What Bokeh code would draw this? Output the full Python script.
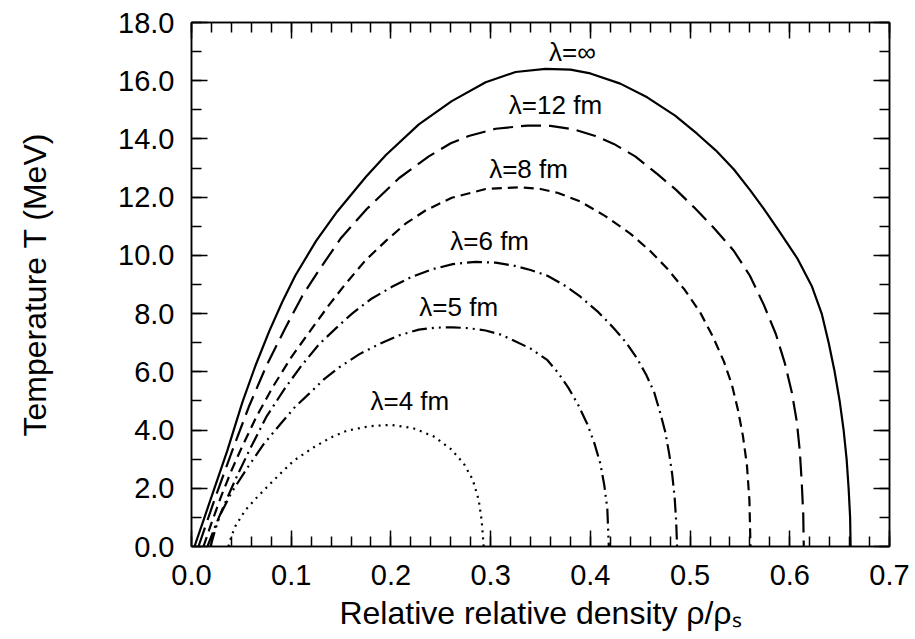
from bokeh.plotting import figure
from bokeh.models import Range1d, LinearAxis, FixedTicker, PrintfTickFormatter, ColumnDataSource
from bokeh.core.properties import value
from bokeh.embed import file_html
from bokeh.resources import INLINE

# Boundary of the liquid-gas coexistence region, T (MeV) against rho/rho_s,
# for several Coulomb screening lengths lambda.
rho_inf = [0.003, 0.012, 0.022, 0.036, 0.051, 0.064, 0.078, 0.091, 0.104, 0.125,
           0.146, 0.175, 0.195, 0.228, 0.261, 0.295, 0.325, 0.355, 0.380, 0.400,
           0.430, 0.457, 0.485, 0.507, 0.526, 0.544, 0.560, 0.574, 0.590, 0.6075,
           0.622, 0.632, 0.639, 0.645, 0.650, 0.654, 0.657, 0.659, 0.6605, 0.661]
T_inf = [0.0, 0.9, 1.9, 3.3, 4.95, 6.2, 7.4, 8.4, 9.3, 10.5,
         11.5, 12.7, 13.45, 14.5, 15.3, 15.95, 16.3, 16.41, 16.38, 16.25,
         15.9, 15.43, 14.8, 14.18, 13.6, 12.95, 12.25, 11.6, 10.8, 9.9,
         8.95, 8.0, 7.0, 6.0, 5.0, 4.0, 3.0, 2.0, 1.0, 0.0]

rho_12 = [0.007, 0.024, 0.041, 0.0575, 0.075, 0.094, 0.111, 0.128, 0.150, 0.176,
          0.208, 0.238, 0.260, 0.278, 0.305, 0.337, 0.360, 0.383, 0.405, 0.4235,
          0.445, 0.467, 0.486, 0.504, 0.525, 0.544, 0.560, 0.574, 0.586, 0.595,
          0.602, 0.607, 0.610, 0.612, 0.6135, 0.614]
T_12 = [0.0, 1.7, 3.3, 4.8, 6.2, 7.5, 8.6, 9.5, 10.6, 11.6,
        12.65, 13.4, 13.85, 14.1, 14.35, 14.46, 14.45, 14.33, 14.1, 13.83,
        13.4, 12.8, 12.25, 11.65, 10.9, 10.15, 9.3, 8.3, 7.3, 6.3,
        5.3, 4.3, 3.3, 2.2, 1.1, 0.0]

rho_8 = [0.012, 0.020, 0.030, 0.040, 0.049, 0.065, 0.081, 0.100, 0.121, 0.138,
         0.154, 0.175, 0.195, 0.215, 0.235, 0.261, 0.295, 0.330, 0.350, 0.367,
         0.390, 0.415, 0.440, 0.460, 0.477, 0.495, 0.510, 0.523, 0.534, 0.542,
         0.548, 0.553, 0.557, 0.5595, 0.5606]
T_8 = [0.0, 0.8, 1.75, 2.6, 3.3, 4.45, 5.45, 6.5, 7.5, 8.3,
       9.0, 9.85, 10.5, 11.1, 11.55, 11.98, 12.28, 12.34, 12.28, 12.15,
       11.85, 11.35, 10.75, 10.15, 9.55, 8.8, 8.05, 7.2, 6.35, 5.55,
       4.7, 3.8, 2.8, 1.6, 0.0]

rho_6 = [0.016, 0.025, 0.035, 0.046, 0.058, 0.075, 0.094, 0.110, 0.128, 0.145,
         0.161, 0.180, 0.201, 0.220, 0.241, 0.262, 0.285, 0.305, 0.323, 0.340,
         0.357, 0.375, 0.390, 0.408, 0.4235, 0.436, 0.447, 0.456, 0.464, 0.470,
         0.475, 0.479, 0.482, 0.4845, 0.486, 0.487]
T_6 = [0.0, 0.8, 1.6, 2.45, 3.3, 4.45, 5.45, 6.2, 6.95, 7.5,
       8.0, 8.5, 8.92, 9.25, 9.52, 9.7, 9.78, 9.75, 9.65, 9.5,
       9.3, 8.95, 8.58, 8.05, 7.5, 7.0, 6.45, 5.9, 5.3, 4.6,
       3.95, 3.2, 2.5, 1.7, 0.9, 0.0]

rho_5 = [0.019, 0.024, 0.029, 0.040, 0.056, 0.072, 0.089, 0.104, 0.118, 0.133,
         0.148, 0.168, 0.188, 0.208, 0.228, 0.245, 0.262, 0.278, 0.295, 0.310,
         0.323, 0.340, 0.357, 0.368, 0.378, 0.388, 0.397, 0.404, 0.410, 0.414,
         0.417, 0.4185]
T_5 = [0.0, 0.6, 1.1, 1.85, 2.7, 3.5, 4.2, 4.8, 5.25, 5.75,
       6.15, 6.6, 6.95, 7.25, 7.45, 7.52, 7.53, 7.5, 7.42, 7.28,
       7.08, 6.8, 6.4, 5.95, 5.45, 4.85, 4.2, 3.55, 2.85, 2.1,
       1.3, 0.0]

rho_4 = [0.037, 0.040, 0.044, 0.054, 0.066, 0.078, 0.089, 0.1026, 0.1227, 0.140,
         0.156, 0.178, 0.200, 0.222, 0.243, 0.260, 0.273, 0.282, 0.288, 0.291, 0.293]
T_4 = [0.0, 0.35, 0.7, 1.25, 1.7, 2.12, 2.5, 2.95, 3.41, 3.75,
       3.98, 4.13, 4.18, 4.07, 3.78, 3.35, 2.85, 2.3, 1.6, 0.9, 0.0]

curve_labels = ["λ=∞", "λ=12 fm", "λ=8 fm", "λ=6 fm", "λ=5 fm", "λ=4 fm"]
label_rho = [0.382, 0.365, 0.338, 0.299, 0.268, 0.219]
label_T = [16.99, 15.18, 12.97, 10.51, 8.23, 5.00]

x_ticks = [0.0, 0.1, 0.2, 0.3, 0.4, 0.5, 0.6, 0.7]
y_ticks = [0.0, 2.0, 4.0, 6.0, 8.0, 10.0, 12.0, 14.0, 16.0, 18.0]

FONT = "Liberation Sans"
W, H = 915, 639
LEFT, RIGHT, TOP, BOTTOM = 191, 889, 22, 546

p = figure(width=W, height=H, x_range=Range1d(0.0, 0.7), y_range=Range1d(0.0, 18.0),
           output_backend="svg", toolbar_location=None,
           min_border_left=LEFT, min_border_right=W - RIGHT,
           min_border_top=TOP, min_border_bottom=H - BOTTOM)
p.xgrid.visible = False
p.ygrid.visible = False
p.outline_line_color = "black"
p.outline_line_width = 1.5
p.background_fill_color = "white"
p.border_fill_color = "white"

x_ticker = FixedTicker(ticks=x_ticks, minor_ticks=[round(0.02 * i, 2) for i in range(36)])
y_ticker = FixedTicker(ticks=y_ticks, minor_ticks=[float(i) for i in range(19)])


def style_axis(ax, show_labels, standoff):
    ax.major_tick_in = 16
    ax.major_tick_out = 0
    ax.minor_tick_in = 10
    ax.minor_tick_out = 0
    ax.major_tick_line_width = 1.5
    ax.minor_tick_line_width = 1.5
    ax.major_tick_line_color = "black"
    ax.minor_tick_line_color = "black"
    ax.axis_line_color = "black"
    ax.axis_line_width = 1.5
    ax.formatter = PrintfTickFormatter(format="%.1f")
    if show_labels:
        ax.major_label_text_font = FONT
        ax.major_label_text_font_size = "29px"
        ax.major_label_text_color = "black"
        ax.major_label_standoff = standoff
    else:
        ax.major_label_text_font_size = "1px"
        ax.major_label_text_color = None
        ax.major_label_standoff = 0


p.xaxis.ticker = x_ticker
p.yaxis.ticker = y_ticker
style_axis(p.xaxis[0], True, 18)
style_axis(p.yaxis[0], True, 17)

p.xaxis.axis_label = "Relative relative density ρ/ρₛ"
p.xaxis.axis_label_text_font = FONT
p.xaxis.axis_label_text_font_size = "32px"
p.xaxis.axis_label_text_font_style = "normal"
p.xaxis.axis_label_text_color = "black"
p.xaxis.axis_label_standoff = 7

p.yaxis.axis_label = "Temperature T (MeV)"
p.yaxis.axis_label_text_font = FONT
p.yaxis.axis_label_text_font_size = "32px"
p.yaxis.axis_label_text_font_style = "normal"
p.yaxis.axis_label_text_color = "black"
p.yaxis.axis_label_standoff = 62

top_axis = LinearAxis(ticker=x_ticker)
right_axis = LinearAxis(ticker=y_ticker)
style_axis(top_axis, False, 0)
style_axis(right_axis, False, 0)
p.add_layout(top_axis, "above")
p.add_layout(right_axis, "right")

# coexistence curves, one dash pattern per screening length
styles = [
    (rho_inf, T_inf, "solid"),
    (rho_12, T_12, "20 8"),
    (rho_8, T_8, "10 6"),
    (rho_6, T_6, "15 5 2 5"),
    (rho_5, T_5, "15 5 2 5 2 5"),
    (rho_4, T_4, "2 5"),
]
for xs, ys, dash in styles:
    p.line(xs, ys, line_color="black", line_width=2.2, line_dash=dash)

lab_src = ColumnDataSource(dict(x=label_rho, y=label_T, text=curve_labels))
p.text(x="x", y="y", text="text", source=lab_src, text_font=value(FONT),
       text_font_size="26px", text_align="center", text_baseline="middle",
       text_color="black")

with open("out.html", "w") as f:
    f.write(file_html(p, INLINE))
